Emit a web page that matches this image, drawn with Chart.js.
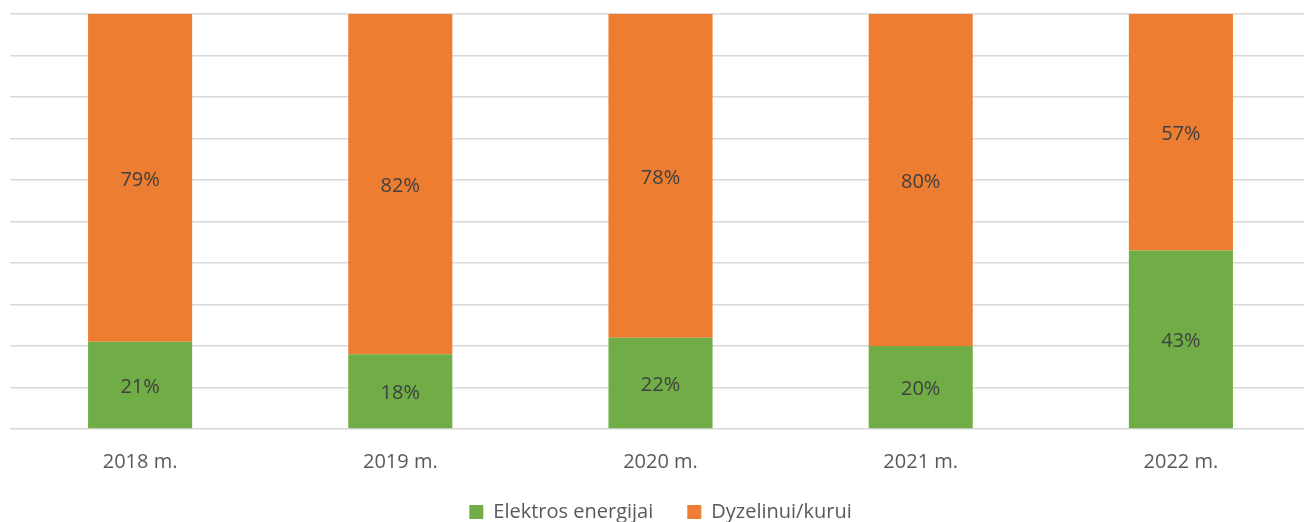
<!DOCTYPE html>
<html><head><meta charset="utf-8">
<script src="https://cdn.jsdelivr.net/npm/chart.js@4/dist/chart.umd.min.js"></script>
<style>html,body{margin:0;padding:0;background:#fff;overflow:hidden;}#wrap{width:1304px;height:522px;overflow:hidden;}canvas{display:block;}</style>
</head><body><div id="wrap"><canvas id="c" width="1311" height="532"></canvas></div>
<script>
const categories = ['2018 m.', '2019 m.', '2020 m.', '2021 m.', '2022 m.'];
const seriesNames = ['Elektros energijai', 'Dyzelinui/kurui'];
const elektros = [21, 18, 22, 20, 43];
const dyzelinui = [79, 82, 78, 80, 57];

const labelPlugin = {
  id: 'barLabels',
  afterDatasetsDraw(chart) {
    const ctx = chart.ctx;
    ctx.save();
    ctx.font = '20px "Open Sans"';
    ctx.fillStyle = '#404040';
    ctx.textAlign = 'center';
    ctx.textBaseline = 'middle';
    chart.data.datasets.forEach((ds, i) => {
      chart.getDatasetMeta(i).data.forEach((bar, j) => {
        const top = Math.min(bar.y, bar.base), bot = Math.max(bar.y, bar.base);
        ctx.fillText(ds.data[j] + '%', bar.x, (top + bot) / 2 + 2);
      });
    });
    ctx.restore();
  }
};

new Chart(document.getElementById('c'), {
  type: 'bar',
  data: {
    labels: categories,
    datasets: [
      { label: seriesNames[0], data: elektros, backgroundColor: '#70AD47', categoryPercentage: 1, barPercentage: 0.4 },
      { label: seriesNames[1], data: dyzelinui, backgroundColor: '#ED7D31', categoryPercentage: 1, barPercentage: 0.4 }
    ]
  },
  options: {
    responsive: false,
    animation: false,
    layout: { padding: { left: 10, right: 0, top: 14, bottom: 0 } },
    plugins: {
      legend: {
        position: 'bottom',
        labels: { font: { family: 'Open Sans', size: 20 }, color: '#595959', boxWidth: 14, boxHeight: 14, padding: 34 }
      },
      tooltip: { enabled: false }
    },
    scales: {
      x: {
        stacked: true,
        grid: { display: false },
        border: { display: false },
        ticks: { font: { family: 'Open Sans', size: 20 }, color: '#595959', padding: 13 },
        afterFit(scale) { scale.height = 39; }
      },
      y: {
        stacked: true,
        min: 0, max: 100,
        ticks: { display: false, stepSize: 10 },
        border: { display: false },
        grid: { color: '#D9D9D9', lineWidth: 1.5, drawTicks: false }
      }
    }
  },
  plugins: [labelPlugin]
});
</script></body></html>
